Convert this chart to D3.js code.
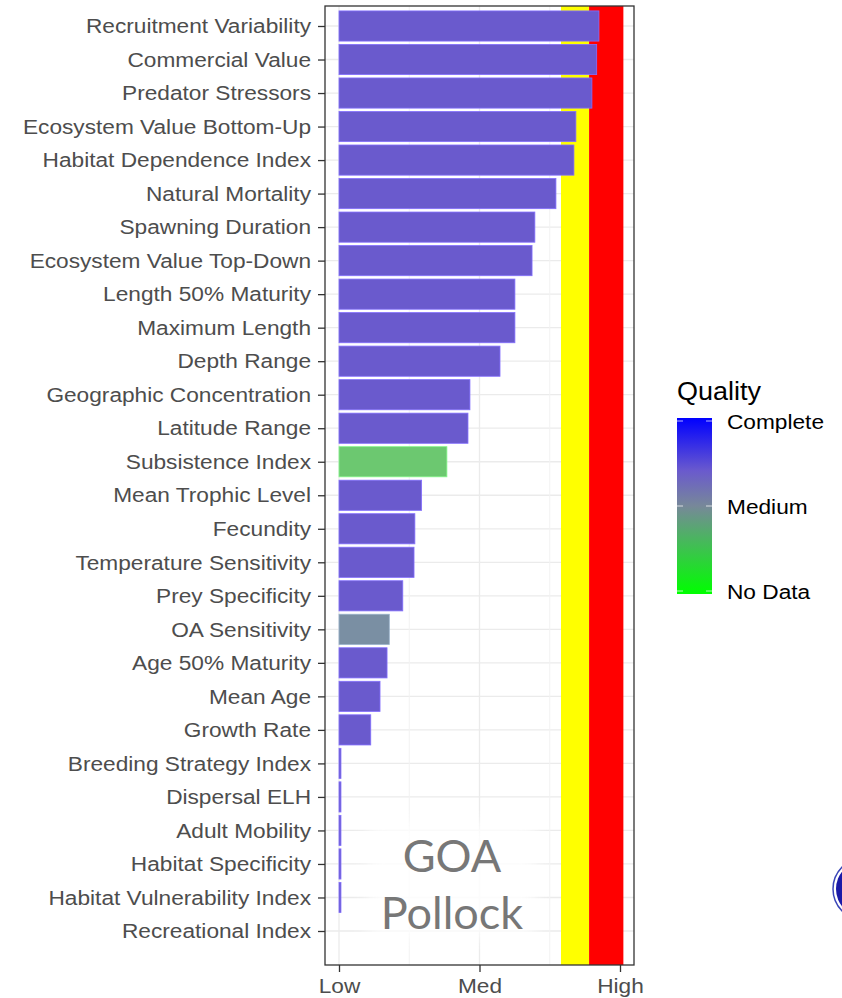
<!DOCTYPE html>
<html>
<head>
<meta charset="utf-8">
<script src="https://d3js.org/d3.v7.min.js"></script>
<style>
body{margin:0;background:#fff;}
svg text{font-family:"Liberation Sans",Arial,sans-serif;}
</style>
</head>
<body>
<div id="chart"></div>
<script>
// categories, top to bottom
var categories=['Recruitment Variability','Commercial Value','Predator Stressors','Ecosystem Value Bottom-Up',
	'Habitat Dependence Index','Natural Mortality','Spawning Duration','Ecosystem Value Top-Down',
	'Length 50% Maturity','Maximum Length','Depth Range','Geographic Concentration','Latitude Range',
	'Subsistence Index','Mean Trophic Level','Fecundity','Temperature Sensitivity','Prey Specificity',
	'OA Sensitivity','Age 50% Maturity','Mean Age','Growth Rate','Breeding Strategy Index','Dispersal ELH',
	'Adult Mobility','Habitat Specificity','Habitat Vulnerability Index','Recreational Index'];
// score, 0 = Low, 0.5 = Med, 1 = High
var scores=[0.925,0.917,0.900,0.843,0.836,0.772,0.697,0.687,0.626,0.626,0.573,0.466,0.459,
	0.384,0.294,0.270,0.267,0.227,0.179,0.171,0.146,0.113,0.007,0.007,0.007,0.007,0.007,0];
// data quality of each score
var quality=['complete','complete','complete','complete','complete','complete','complete','complete',
	'complete','complete','complete','complete','complete','nodata','complete','complete','complete',
	'complete','medium','complete','complete','complete','complete','complete','complete','complete',
	'complete','complete'];
var xTickValues=[0,0.5,1];
var xTickLabels=['Low','Med','High'];
var minorTicks=[0.25,0.75];
// threshold bands
var bandYellow=[0.79,0.89];
var bandRed=[0.89,1.012];
var legendLabels=['Complete','Medium','No Data'];

var W=842,H=998;
var SX=1.08; // text is a little stretched in the original
var svg=d3.select('#chart').append('svg').attr('width',W).attr('height',H);

var panel={left:325,right:634,top:6,bottom:965};

var x=d3.scaleLinear().domain([0,1]).range([339,620]);
var y=d3.scalePoint().domain(categories).range([26,931]);
var step=y.step();
var barH=step*0.9;

var qualityColor=d3.scaleOrdinal()
	.domain(['complete','medium','nodata'])
	.range(['#6a5acd','#7a8fa3','#6cc870']);

// grid
var g=svg.append('g');
g.selectAll('.hgrid').data(categories).enter().append('line')
	.attr('x1',panel.left).attr('x2',panel.right)
	.attr('y1',function(d){return y(d);}).attr('y2',function(d){return y(d);})
	.attr('stroke','#ebebeb').attr('stroke-width',1.3);
g.selectAll('.vminor').data(minorTicks).enter().append('line')
	.attr('x1',function(d){return x(d);}).attr('x2',function(d){return x(d);})
	.attr('y1',panel.top).attr('y2',panel.bottom)
	.attr('stroke','#f2f2f2').attr('stroke-width',1);
g.selectAll('.vmajor').data(xTickValues).enter().append('line')
	.attr('x1',function(d){return x(d);}).attr('x2',function(d){return x(d);})
	.attr('y1',panel.top).attr('y2',panel.bottom)
	.attr('stroke','#ebebeb').attr('stroke-width',1.3);

// bands
svg.append('rect').attr('x',x(bandYellow[0])).attr('width',x(bandYellow[1])-x(bandYellow[0]))
	.attr('y',panel.top).attr('height',panel.bottom-panel.top).attr('fill','#ffff00');
svg.append('rect').attr('x',x(bandRed[0])).attr('width',x(bandRed[1])-x(bandRed[0]))
	.attr('y',panel.top).attr('height',panel.bottom-panel.top).attr('fill','#ff0000');

// bars
svg.append('g').selectAll('rect').data(categories).enter().append('rect')
	.attr('x',x(0))
	.attr('y',function(d){return y(d)-barH/2;})
	.attr('width',function(d,i){return x(scores[i])-x(0);})
	.attr('height',barH)
	.attr('fill',function(d,i){return qualityColor(quality[i]);})
	.attr('stroke',function(d,i){return d3.color(qualityColor(quality[i])).brighter(0.6);})
	.attr('stroke-width',function(d,i){return scores[i]>0?0.8:0;});

// label halo and species label
var defs=svg.append('defs');
defs.append('filter').attr('id','blur').append('feGaussianBlur').attr('stdDeviation',8);
svg.append('rect').attr('x',368).attr('y',822).attr('width',168).attr('height',116)
	.attr('fill','#fff').attr('opacity',0.85).attr('filter','url(#blur)');
var lab=svg.append('text').attr('text-anchor','middle')
	.style('font-family','Lato, "Open Sans", sans-serif').style('font-size','45px').attr('fill','#777777');
lab.append('tspan').attr('x',452).attr('y',872).text('GOA');
lab.append('tspan').attr('x',452).attr('y',929).text('Pollock');

// panel border
svg.append('rect').attr('x',panel.left).attr('y',panel.top)
	.attr('width',panel.right-panel.left).attr('height',panel.bottom-panel.top)
	.attr('fill','none').attr('stroke','#333333').attr('stroke-width',1.3);

// axes
var yAxis=d3.axisLeft(y).tickSize(7).tickPadding(7);
var ya=svg.append('g').attr('transform','translate('+panel.left+',0)').call(yAxis);
ya.select('.domain').remove();
ya.selectAll('line').attr('stroke','#333333').attr('stroke-width',1.3);
ya.selectAll('text').attr('fill','#4d4d4d').style('font-size','21px')
	.attr('x',-14/SX).attr('transform','scale('+SX+',1)');

var xAxis=d3.axisBottom(x).tickValues(xTickValues).tickFormat(function(d,i){return xTickLabels[i];})
	.tickSize(7).tickPadding(6);
var xa=svg.append('g').attr('transform','translate(0,'+panel.bottom+')').call(xAxis);
xa.select('.domain').remove();
xa.selectAll('line').attr('stroke','#333333').attr('stroke-width',1.3);
xa.selectAll('text').attr('fill','#4d4d4d').style('font-size','21px').attr('transform','scale('+SX+',1)');

// legend
var lg=svg.append('g');
var grad=defs.append('linearGradient').attr('id','qgrad').attr('x1',0).attr('x2',0).attr('y1',0).attr('y2',1);
[[0,'#0000ff'],[0.3,'#6a5acd'],[0.5,'#778899'],[1,'#00ff00']].forEach(function(s){
	grad.append('stop').attr('offset',s[0]).attr('stop-color',s[1]);
});
lg.append('text').attr('transform','translate(677,400) scale('+SX+',1)').style('font-size','25px').attr('fill','#000').text('Quality');
var ly=d3.scaleLinear().domain([0,2]).range([421,591]);
lg.append('rect').attr('x',677).attr('y',418).attr('width',35).attr('height',176).attr('fill','url(#qgrad)');
legendLabels.forEach(function(t,i){
	lg.append('line').attr('x1',677).attr('x2',683).attr('y1',ly(i)).attr('y2',ly(i)).attr('stroke','#fff').attr('stroke-opacity',0.7);
	lg.append('line').attr('x1',706).attr('x2',712).attr('y1',ly(i)).attr('y2',ly(i)).attr('stroke','#fff').attr('stroke-opacity',0.7);
	lg.append('text').attr('transform','translate(727,'+ly(i)+') scale('+SX+',1)').attr('dy','0.36em')
		.style('font-size','21px').attr('fill','#000').text(t);
});

// partial logo at the right edge
svg.append('circle').attr('cx',864).attr('cy',889).attr('r',31).attr('fill','#fff').attr('stroke','#3a46b8').attr('stroke-width',1.5);
svg.append('circle').attr('cx',864).attr('cy',889).attr('r',28).attr('fill','#1a1aa8');
</script>
</body>
</html>
